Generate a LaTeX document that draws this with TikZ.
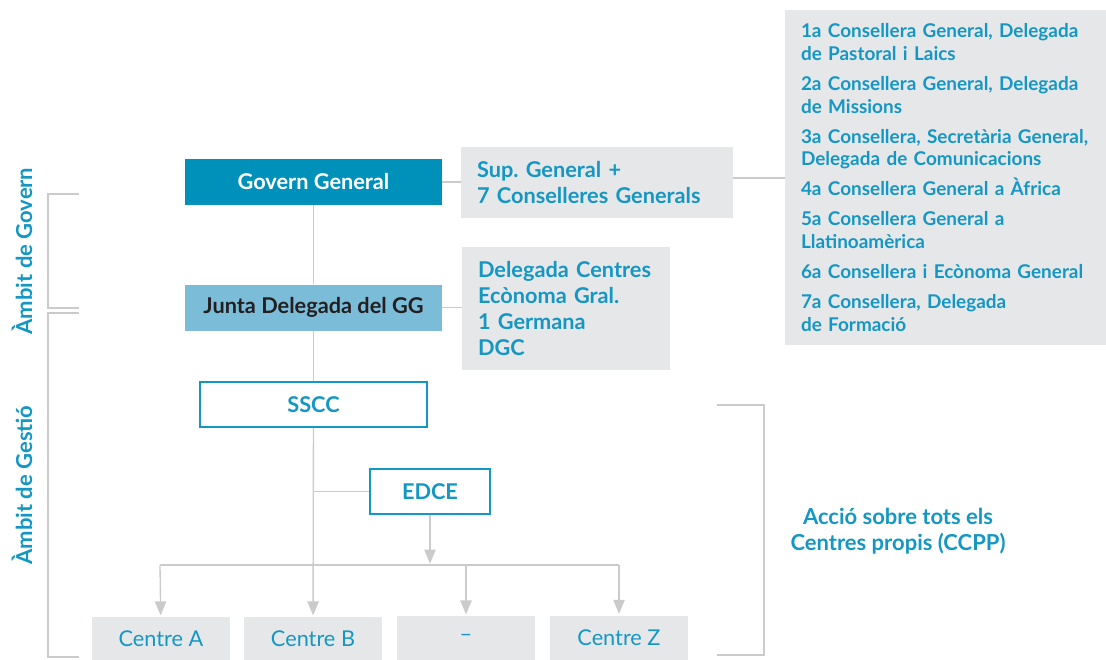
\documentclass[tikz,border=0pt]{standalone}
\usepackage{fontspec}
\setmainfont{Lato}
\usetikzlibrary{arrows.meta,positioning}
\definecolor{GovBlue}{HTML}{0091BB}
\definecolor{JuntaBlue}{HTML}{7BBCD8}
\definecolor{TextBlue}{HTML}{1497C4}
\definecolor{BoxGrey}{HTML}{E6E7E9}
\definecolor{LineGrey}{HTML}{CBCBCB}
\definecolor{DarkText}{HTML}{231F20}

\begin{document}
\begin{tikzpicture}[x=0.75pt,y=-0.75pt,
    link/.style={draw=LineGrey,line width=1pt},
    arr/.style={link,-{Triangle[width=8.5pt,length=10.5pt]},shorten >=1pt},
    govbox/.style={fill=#1,minimum width=192.75pt,minimum height=34.5pt,inner sep=0pt,
        font=\fontsize{16.3}{19}\selectfont\bfseries},
    linebox/.style={draw=TextBlue,line width=1.2pt,fill=white,minimum height=33.75pt,inner sep=0pt,
        text=TextBlue,font=\fontsize{16.3}{19}\selectfont\bfseries},
    infobox/.style={fill=BoxGrey,inner xsep=12pt,inner ysep=0pt,align=left,text=TextBlue},
    centre/.style={fill=BoxGrey,minimum width=103.5pt,minimum height=33pt,inner sep=0pt,
        text=TextBlue,font=\fontsize{16.3}{19}\selectfont},
    side/.style={text=TextBlue,font=\fontsize{16.5}{19}\selectfont\bfseries}]
  \useasboundingbox (0,0) rectangle (1106,660);

  % govern
  \node[govbox=GovBlue,text=white] (gg) at (313.5,182) {Govern General};
  \node[govbox=JuntaBlue,text=DarkText] (junta) at (313.5,307.5) {Junta Delegada del GG};
  \node[infobox,minimum width=204pt,minimum height=53.25pt,text width=180pt,
        font=\fontsize{16.3}{19}\selectfont\bfseries] (sup) at (597,182.5)
        {Sup.\ General +\\7 Conselleres Generals};
  \node[infobox,minimum width=156pt,minimum height=92.25pt,text width=132pt,
        font=\fontsize{16.3}{19.3}\selectfont\bfseries] (deleg) at (566,308.5)
        {Delegada Centres\\Ecònoma Gral.\\1 Germana\\DGC};
  \node[infobox,minimum width=240.75pt,minimum height=251.25pt,text width=216.75pt,
        font=\fontsize{14.2}{17}\selectfont\bfseries] (cons) at (945.5,177.5)
        {1a Consellera General, Delegada\\de Pastoral i Laics\\[5.5pt]
         2a Consellera General, Delegada\\de Missions\\[5.5pt]
         3a Consellera, Secretària General,\\Delegada de Comunicacions\\[5.5pt]
         4a Consellera General a Àfrica\\[5.5pt]
         5a Consellera General a\\Llatinoamèrica\\[5.5pt]
         6a Consellera i Ecònoma General\\[5.5pt]
         7a Consellera, Delegada\\de Formació};

  % gestio
  \node[linebox,minimum width=170.25pt] (sscc) at (313.5,404.5) {SSCC};
  \node[linebox,minimum width=90pt] (edce) at (430,491.5) {EDCE};
  \node[centre] (cA) at (161,639) {Centre A};
  \node[centre] (cB) at (313,639) {Centre B};
  \node[centre] (cD) at (466,638) {–};
  \node[centre] (cZ) at (619,637.5) {Centre Z};
  \coordinate (busL) at (160,565);
  \coordinate (busR) at (619,565);

  \draw[link] (gg) -- (junta);
  \draw[link] (junta) -- (sscc);
  \draw[link] (gg) -- (gg -| sup.west);
  \draw[link] (sup.east |- 0,178) -- (cons.west |- 0,178);
  \draw[link] (junta) -- (junta -| deleg.west);
  \draw[arr] (sscc) -- (cB);
  \draw[link] (edce.west) -- (edce.west -| sscc.south);
  \draw[arr] (edce) -- (edce |- busL);
  \draw[link] (busL) -- (busR);
  \draw[arr] (busL) -- (cA);
  \draw[arr] (cD.north |- busL) -- (cD);
  \draw[arr] (busR) -- (cZ);

  % ambits
  \draw[link] (79,194) -- (48,194) -- (48,308) -- (79,308);
  \draw[link] (79,313) -- (48,313) -- (48,657) -- (79,657);
  \draw[link] (717,405) -- (764,405) -- (764,655) -- (717,655);
  \node[side,rotate=90] (ambgov) at (22,251) {Àmbit de Govern};
  \node[side,rotate=90] (ambges) at (22,485) {Àmbit de Gestió};
  \node[side,align=center,font=\fontsize{16.5}{19}\selectfont\bfseries] (accio) at (898,531)
        {Acció sobre tots els\\Centres propis (CCPP)};
\end{tikzpicture}
\end{document}
